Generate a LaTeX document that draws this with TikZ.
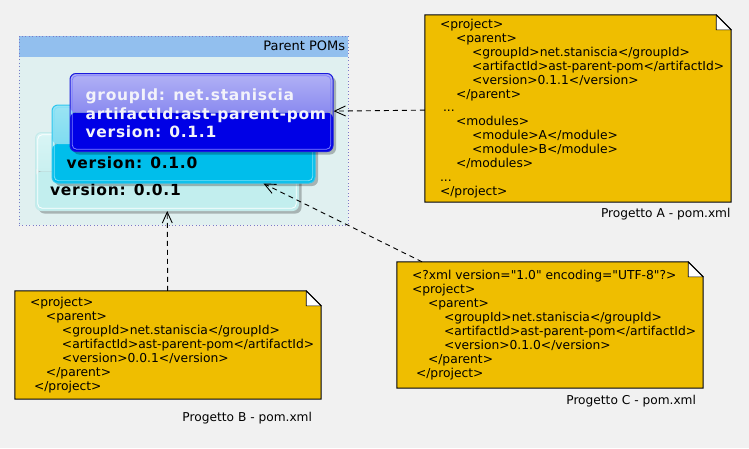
\documentclass[tikz,border=0pt]{standalone}
\usepackage{fontspec}
\setmainfont{DejaVu Sans}
\newfontfamily\pomfont[LetterSpace=4.5]{DejaVu Sans}
\usetikzlibrary{arrows.meta, positioning, calc, shadows}
\definecolor{canvasbg}{HTML}{F1F1F1}
\definecolor{pkghead}{HTML}{92BFEE}
\definecolor{pkgbody}{HTML}{E0F0F0}
\definecolor{pkgline}{HTML}{7A7AC8}
\definecolor{notegold}{HTML}{EFBE00}
\definecolor{pomwhite}{HTML}{F2F2FA}
% version 0.0.1
\definecolor{paletop}{HTML}{D9F5F5}
\definecolor{palemid}{HTML}{C9F0F0}
\definecolor{palelow}{HTML}{C2EEEE}
\definecolor{paleedge}{HTML}{C4EAEA}
% version 0.1.0
\definecolor{cyantop}{HTML}{9AE4F4}
\definecolor{cyanmid}{HTML}{7FDCF0}
\definecolor{cyanlow}{HTML}{00BEEB}
\definecolor{cyanedge}{HTML}{2EC6EE}
\definecolor{cyaninner}{HTML}{7FE0F8}
% version 0.1.1
\definecolor{bluetop}{HTML}{B2B2F5}
\definecolor{bluemid}{HTML}{8A8AF0}
\definecolor{bluelow}{HTML}{0000E6}
\definecolor{blueedge}{HTML}{1A1ADC}
\definecolor{blueinner}{HTML}{8080FF}
% indentation step of the xml listings
\newcommand{\lvl}{\hspace*{16pt}}
\newcommand{\dq}{\textquotedbl}
% dog-eared outline of a note
\newcommand{\notefold}[1]{%
  \fill[canvasbg] ($(#1.north east)+(-15,0)$) -- (#1.north east) -- ($(#1.north east)+(0,15)$) -- cycle;
  \filldraw[fill=white, draw=black, line width=0.6pt] ($(#1.north east)+(-15,0)$) -- ($(#1.north east)+(-15,15)$) -- ($(#1.north east)+(0,15)$) -- cycle;
  \draw[black, line width=1pt] (#1.north west) -- ($(#1.north east)+(-15,0)$) -- ($(#1.north east)+(0,15)$)
    -- (#1.south east) -- (#1.south west) -- cycle;
}

\begin{document}
\begin{tikzpicture}[x=1pt, y=-1pt, every node/.style={inner sep=0pt}]
  \tikzset{
    pkgframe/.style={draw=pkgline, line width=0.8pt, dash pattern=on 0.8pt off 2.6pt,
      fill=pkgbody, minimum width=329pt, minimum height=189pt,
      path picture={\fill[pkghead] (path picture bounding box.north west)
        rectangle ($(path picture bounding box.north east)+(0,21)$);}},
    pombox/.style n args={5}{rounded corners=6pt, draw=#4, line width=1pt,
      minimum width=263pt, minimum height=78pt,
      drop shadow={shadow xshift=3pt, shadow yshift=-3pt, fill=black, opacity=0.25},
      path picture={
        \fill[#3] (path picture bounding box.west) rectangle (path picture bounding box.south east);
        \shade[top color=#1, bottom color=#2] (path picture bounding box.north west)
          rectangle (path picture bounding box.east);
        \draw[#5, line width=0.8pt, rounded corners=4.5pt]
          ($(path picture bounding box.north west)+(2.2,2.2)$)
          rectangle ($(path picture bounding box.south east)+(-2.2,-2.2)$);
      }},
    pomtext/.style={font=\pomfont\bfseries\fontsize{15.5}{18.5}\selectfont, align=left},
    notebox/.style={fill=notegold, minimum width=306pt},
    notetext/.style={font=\fontsize{12.3}{13.9}\selectfont, align=left},
    caption/.style={font=\fontsize{12.2}{14}\selectfont},
    depline/.style={draw=black, line width=0.9pt, dash pattern=on 5pt off 4pt,
      -{Straight Barb[length=11pt, width=10pt]}}
  }
  \fill[canvasbg] (0,0) rectangle (749,448);
  \useasboundingbox (0,0) rectangle (749,448);

  % parent poms package
  \node[pkgframe] (pkg) at (183.5, 130.5) {};
  \node[font=\fontsize{13}{15}\selectfont, anchor=base east] (pkgtitle)
    at ($(pkg.north east)+(-3,15.3)$) {Parent POMs};

  \node[pombox={paletop}{palemid}{palelow}{paleedge}{white}] (pom001) at (167, 171.5) {};
  \node[pomtext, anchor=base west] (lbl001) at ($(pom001.north west)+(15,63.5)$) {version: 0.0.1};

  \node[pombox={cyantop}{cyanmid}{cyanlow}{cyanedge}{cyaninner}] (pom010) at (183.5, 144) {};
  \node[pomtext, anchor=base west] (lbl010) at ($(pom010.north west)+(15,63.5)$) {version: 0.1.0};

  \node[pombox={bluetop}{bluemid}{bluelow}{blueedge}{blueinner}] (pom011) at (201.5, 112.5) {};
  \node[pomtext, text=pomwhite, anchor=north west] (lbl011) at ($(pom011.north west)+(16,15.6)$)
    {groupId: net.staniscia\\artifactId:ast-parent-pom\\version: 0.1.1};

  % project A
  \node[notebox, minimum height=187pt] (noteA) at (578, 108.5) {};
  \notefold{noteA}
  \node[notetext, right=15pt of noteA.west] (codeA) {%
    <project>\\
    \lvl<parent>\\
    \lvl\lvl<groupId>net.staniscia</groupId>\\
    \lvl\lvl<artifactId>ast-parent-pom</artifactId>\\
    \lvl\lvl<version>0.1.1</version>\\
    \lvl</parent>\\
    \hspace*{3pt}...\\
    \lvl<modules>\\
    \lvl\lvl<module>A</module>\\
    \lvl\lvl<module>B</module>\\
    \lvl</modules>\\
    ...\\
    </project>};
  \node[caption, below left=5.6pt and 0.5pt of noteA.south east] (capA) {Progetto A - pom.xml};

  % project B
  \node[notebox, minimum height=108pt] (noteB) at (168, 345) {};
  \notefold{noteB}
  \node[notetext, right=15pt of noteB.west] (codeB) {%
    <project>\\
    \lvl<parent>\\
    \lvl\lvl<groupId>net.staniscia</groupId>\\
    \lvl\lvl<artifactId>ast-parent-pom</artifactId>\\
    \lvl\lvl<version>0.0.1</version>\\
    \lvl</parent>\\
    \hspace*{4pt}</project>};
  \node[caption, below left=12.6pt and 9pt of noteB.south east] (capB) {Progetto B - pom.xml};

  % project C
  \node[notebox, minimum height=126pt] (noteC) at (550, 325) {};
  \notefold{noteC}
  \node[notetext, right=15pt of noteC.west] (codeC) {%
    <?xml version=\dq 1.0\dq{} encoding=\dq UTF-8\dq ?>\\
    <project>\\
    \lvl<parent>\\
    \lvl\lvl<groupId>net.staniscia</groupId>\\
    \lvl\lvl<artifactId>ast-parent-pom</artifactId>\\
    \lvl\lvl<version>0.1.0</version>\\
    \lvl</parent>\\
    \hspace*{4pt}</project>};
  \node[caption, below left=7.3pt and 7pt of noteC.south east] (capC) {Progetto C - pom.xml};

  \draw[depline] (noteA) -- (pom011);
  \draw[depline] (noteC) -- (pom010);
  \draw[depline] (noteB) -- (pom001);
\end{tikzpicture}
\end{document}
